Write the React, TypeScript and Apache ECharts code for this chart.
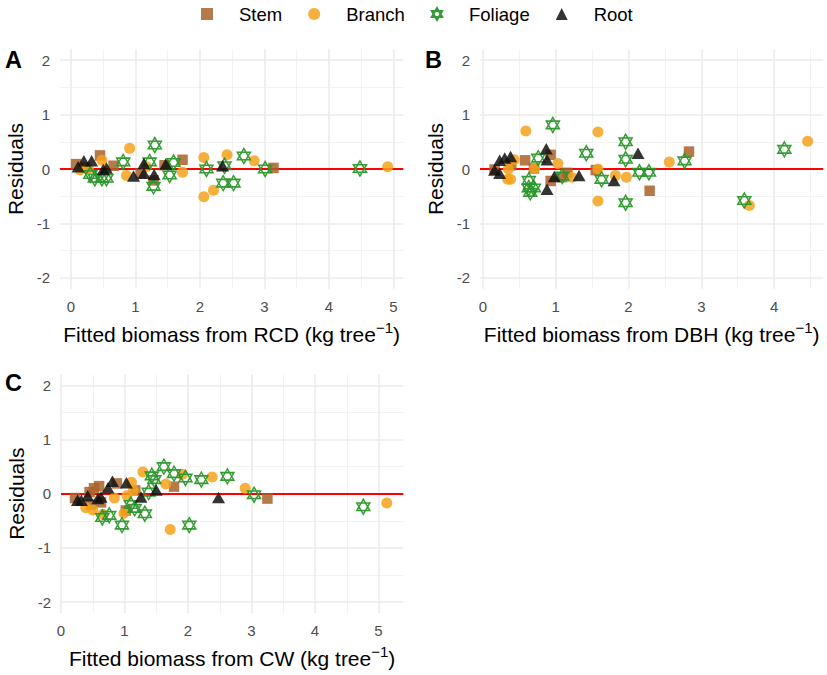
import React, { useEffect, useRef } from "react";
import * as echarts from "echarts";

// ---------- data ----------
const seriesNames = ["Stem", "Branch", "Foliage", "Root"];
const panelTags = ["A", "B", "C"];
const predictorNames = ["RCD", "DBH", "CW"];
const yTickValues = [-2, -1, 0, 1, 2];
const yMinorValues = [-1.5, -0.5, 0.5, 1.5];
const xTickValuesA = [0, 1, 2, 3, 4, 5];
const xTickValuesB = [0, 1, 2, 3, 4];
const xTickValuesC = [0, 1, 2, 3, 4, 5];
const xMinorValues = [0.5, 1.5, 2.5, 3.5, 4.5];
const xLimitsA = [-0.17, 5.152];
const xLimitsB = [-0.04, 4.675];
const xLimitsC = [0.0, 5.39];
const yLimits = [-2.2, 2.2];

const stemRCD = [[0.08, 0.09], [0.22, 0.03], [0.45, 0.25], [0.66, 0.06], [1.08, -0.08], [1.28, -0.21], [1.45, 0.07], [1.73, 0.17], [3.14, 0.02]];
const branchRCD = [[0.14, -0.02], [0.27, 0.0], [0.48, 0.16], [0.86, -0.12], [0.91, 0.38], [1.17, 0.04], [1.73, -0.06], [2.06, 0.21], [2.06, -0.51], [2.21, -0.39], [2.42, 0.26], [2.84, 0.15], [4.91, 0.04]];
const foliageRCD = [[0.3, -0.1], [0.37, -0.17], [0.48, -0.17], [0.55, -0.17], [0.81, 0.13], [1.22, 0.13], [1.3, 0.44], [1.28, -0.32], [1.53, -0.11], [1.59, 0.12], [2.1, 0.0], [2.38, 0.06], [2.36, -0.26], [2.52, -0.26], [2.68, 0.24], [3.01, 0.0], [4.48, 0.01]];
const rootRCD = [[0.11, 0.04], [0.2, 0.15], [0.32, 0.15], [0.5, -0.01], [0.55, 0.02], [0.97, -0.13], [1.13, 0.1], [1.13, -0.08], [1.29, -0.1], [1.47, 0.09], [2.35, 0.06]];

const stemDBH = [[0.16, -0.01], [0.39, 0.07], [0.58, 0.16], [0.7, 0.01], [0.93, 0.26], [0.93, -0.22], [1.09, -0.15], [1.16, -0.07], [1.55, -0.02], [2.29, -0.4], [2.83, 0.32]];
const branchDBH = [[0.34, -0.19], [0.38, -0.19], [0.35, 0.0], [0.43, 0.17], [0.59, 0.7], [0.71, 0.01], [1.03, 0.1], [1.22, -0.15], [1.58, 0.68], [1.58, -0.59], [1.58, 0.0], [1.82, -0.12], [1.97, -0.15], [2.56, 0.13], [3.66, -0.67], [4.46, 0.51]];
const foliageDBH = [[0.63, -0.21], [0.63, -0.35], [0.7, -0.35], [0.65, -0.43], [0.76, 0.2], [0.96, 0.81], [1.09, -0.13], [1.42, 0.29], [1.63, -0.19], [1.96, 0.5], [1.96, 0.18], [1.96, -0.62], [2.15, -0.06], [2.28, -0.06], [2.77, 0.15], [3.59, -0.58], [4.14, 0.36]];
const rootDBH = [[0.16, -0.02], [0.23, 0.16], [0.3, 0.2], [0.38, 0.23], [0.23, -0.08], [0.87, 0.37], [0.88, 0.17], [0.88, -0.37], [0.98, -0.14], [1.32, -0.12], [1.8, -0.21], [2.13, 0.29]];

const stemCW = [[0.22, -0.08], [0.45, 0.03], [0.47, -0.2], [0.52, 0.1], [0.6, 0.14], [0.63, -0.16], [0.88, 0.19], [1.02, -0.31], [1.17, 0.06], [1.78, 0.13], [3.25, -0.09]];
const branchCW = [[0.39, -0.26], [0.5, -0.3], [0.66, -0.38], [0.84, -0.08], [0.99, -0.36], [1.04, -0.04], [1.11, 0.21], [1.14, 0.06], [1.29, 0.4], [1.65, 0.18], [1.72, -0.66], [1.91, 0.36], [2.38, 0.31], [2.9, 0.1], [5.13, -0.17]];
const foliageCW = [[0.65, -0.44], [0.76, -0.4], [0.96, -0.58], [1.1, -0.2], [1.16, -0.27], [1.32, -0.37], [1.38, 0.03], [1.43, 0.33], [1.47, 0.26], [1.62, 0.5], [1.78, 0.37], [1.96, 0.29], [2.02, -0.58], [2.21, 0.26], [2.62, 0.32], [3.04, -0.02], [4.76, -0.24]];
const rootCW = [[0.26, -0.12], [0.32, -0.12], [0.42, -0.04], [0.58, -0.09], [0.63, -0.06], [0.74, 0.11], [0.81, 0.23], [1.03, 0.2], [1.26, -0.06], [1.5, 0.07], [2.48, -0.07]];

// ---------- styling ----------
const FONT = "'Liberation Sans', Arial, Helvetica, sans-serif";
const HEXAGRAM = "path://M0,-1L0.866,0.5L-0.866,0.5ZM0,1L0.866,-0.5L-0.866,-0.5Z";
const seriesLooks: any[] = [
  { symbol: "rect", symbolSize: 10.5, itemStyle: { color: "#A9612A", opacity: 0.85 } },
  { symbol: "circle", symbolSize: 11, itemStyle: { color: "#F5A21B", opacity: 0.85 } },
  { symbol: HEXAGRAM, symbolSize: [13, 15], itemStyle: { color: "rgba(0,0,0,0)", borderColor: "#2A962A", borderWidth: 1.5, opacity: 0.95 } },
  { symbol: "triangle", symbolSize: [13, 11.5], itemStyle: { color: "#111111", opacity: 0.85 } },
];

const gridRects = [
  { left: 60, top: 49.3, width: 343.3, height: 239.4 },
  { left: 480, top: 49.3, width: 343.3, height: 239.4 },
  { left: 61, top: 374.5, width: 342.3, height: 238.4 },
];

export default function App() {
  const ref = useRef<HTMLDivElement>(null);
  useEffect(() => {
    if (!ref.current) return;
    const chart = echarts.init(ref.current, undefined, { renderer: "svg" });
    const panelData = [
      [stemRCD, branchRCD, foliageRCD, rootRCD],
      [stemDBH, branchDBH, foliageDBH, rootDBH],
      [stemCW, branchCW, foliageCW, rootCW],
    ];
    const xTicks = [xTickValuesA, xTickValuesB, xTickValuesC];
    const xLims = [xLimitsA, xLimitsB, xLimitsC];

    const majorStyle = { color: "#EBEBEB", width: 1.6, type: "solid" };
    const minorStyle = { color: "#EFEFEF", width: 0.8, type: "solid" };

    const xAxes: any[] = [];
    const yAxes: any[] = [];
    const series: any[] = [];
    for (let i = 0; i < 3; i++) {
      xAxes.push({
        type: "value",
        gridIndex: i,
        min: xLims[i][0],
        max: xLims[i][1],
        axisLine: { show: false, onZero: false },
        axisTick: { show: false, customValues: xTicks[i] },
        splitLine: { show: false },
        axisLabel: { customValues: xTicks[i], color: "#4D4D4D", fontSize: 15, fontFamily: FONT, margin: 10 },
        name: `{a|Fitted biomass from ${predictorNames[i]} (kg tree}{s|\u22121}{a|)}`,
        nameLocation: "middle",
        nameGap: 31,
        nameTextStyle: {
          rich: {
            a: { fontSize: 21, lineHeight: 30, color: "#000", fontFamily: FONT },
            s: { fontSize: 15, lineHeight: 15, verticalAlign: "top", color: "#000", fontFamily: FONT },
          },
        },
      });
      yAxes.push({
        type: "value",
        gridIndex: i,
        min: yLimits[0],
        max: yLimits[1],
        axisLine: { show: false, onZero: false },
        axisTick: { show: false, customValues: yTickValues },
        splitLine: { show: false },
        axisLabel: { customValues: yTickValues, color: "#4D4D4D", fontSize: 15, fontFamily: FONT, margin: 10 },
        name: "Residuals",
        nameLocation: "middle",
        nameGap: 34,
        nameTextStyle: { fontSize: 21, color: "#000", fontFamily: FONT },
      });
      const xMinor = xMinorValues.filter((v) => v > xLims[i][0] && v < xLims[i][1]);
      series.push({
        type: "scatter",
        xAxisIndex: i,
        yAxisIndex: i,
        data: [],
        silent: true,
        z: 1,
        markLine: {
          silent: true,
          z: 1,
          symbol: ["none", "none"],
          label: { show: false },
          emphasis: { disabled: true },
          animation: false,
          data: [
            ...xMinor.map((v) => ({ xAxis: v, lineStyle: minorStyle })),
            ...yMinorValues.map((v) => ({ yAxis: v, lineStyle: minorStyle })),
            ...xTicks[i].map((v) => ({ xAxis: v, lineStyle: majorStyle })),
            ...yTickValues.map((v) => ({ yAxis: v, lineStyle: majorStyle })),
            { yAxis: 0, lineStyle: { color: "#FF0000", width: 2, type: "solid" } },
          ],
        },
      });
      for (let s = 0; s < 4; s++) {
        series.push({
          name: seriesNames[s],
          type: "scatter",
          xAxisIndex: i,
          yAxisIndex: i,
          data: panelData[i][s],
          z: 3 + s,
          ...seriesLooks[s],
        });
      }
    }

    chart.setOption({
      animation: false,
      backgroundColor: "#FFFFFF",
      textStyle: { fontFamily: FONT },
      legend: {
        data: seriesNames,
        left: 201,
        top: 4.5,
        padding: 0,
        itemWidth: 12,
        itemHeight: 12,
        itemGap: 26,
        selectedMode: false,
        textStyle: { fontSize: 18.5, color: "#000", fontFamily: FONT, padding: [0, 0, 0, 21] },
      },
      grid: gridRects.map((g) => ({ ...g, containLabel: false })),
      xAxis: xAxes,
      yAxis: yAxes,
      series,
      graphic: [
        { type: "text", x: 5, y: 60, style: { text: panelTags[0], font: `bold 23.5px ${FONT}`, fill: "#000", verticalAlign: "middle" } },
        { type: "text", x: 425, y: 60, style: { text: panelTags[1], font: `bold 23.5px ${FONT}`, fill: "#000", verticalAlign: "middle" } },
        { type: "text", x: 5, y: 383.3, style: { text: panelTags[2], font: `bold 23.5px ${FONT}`, fill: "#000", verticalAlign: "middle" } },
      ],
    });
    return () => chart.dispose();
  }, []);
  return <div ref={ref} style={{ position: "absolute", left: 0, top: 0, width: 827, height: 675 }} />;
}
